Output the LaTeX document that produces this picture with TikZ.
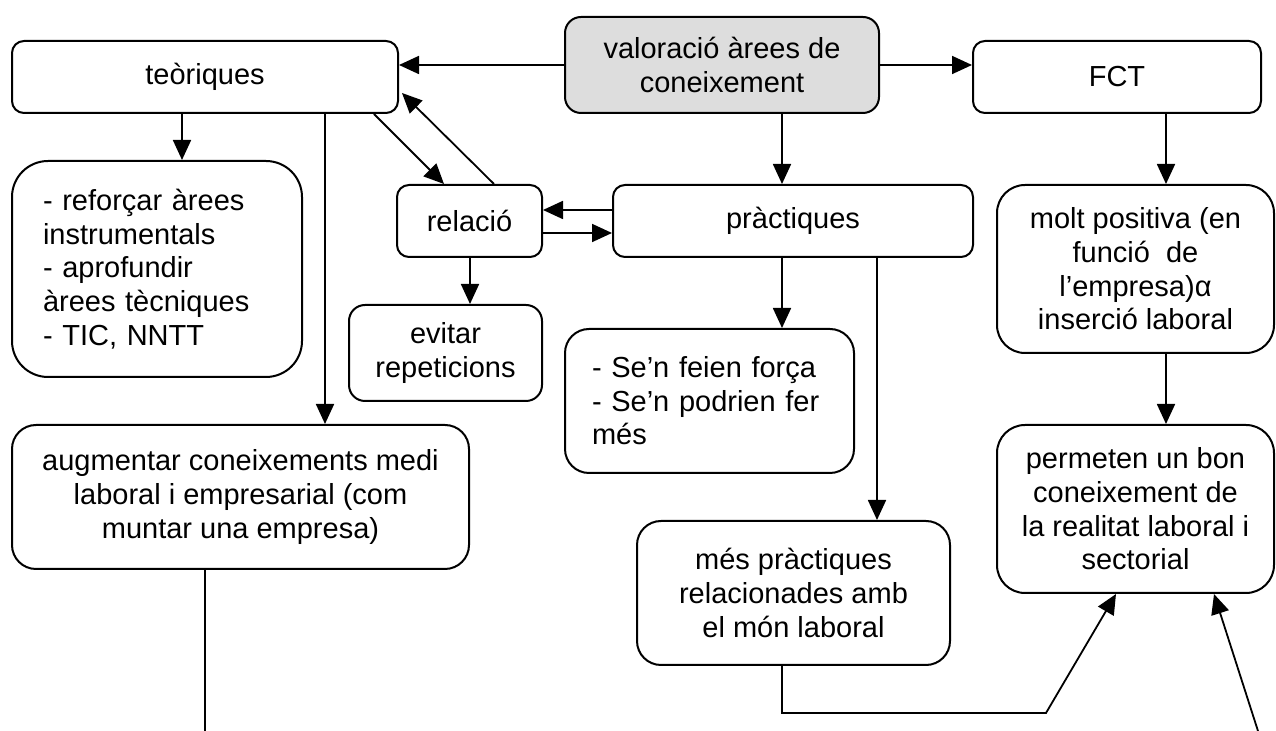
\documentclass[tikz,border=0pt]{standalone}
\usepackage{fontspec}
\setmainfont{Liberation Sans}
\usepackage{xcolor}
\definecolor{valfill}{HTML}{DDDDDD}
\usepackage{tikz}
\usetikzlibrary{arrows.meta,calc}
\tikzset{
  >={Triangle[length=10pt,width=9pt]},
  box/.style={draw,line width=1pt,rounded corners=6pt,inner sep=2pt,align=center,fill=white,
    font=\fontsize{14.5pt}{16.8pt}\selectfont},
  gbox/.style={box,fill=valfill},
  lbox/.style={box,align=left},
  arr/.style={->,line width=0.9pt},
  ln/.style={line width=0.9pt},
}
\begin{document}
\begin{tikzpicture}[x=0.5pt,y=-0.5pt]
\useasboundingbox (0,0) rectangle (1276,731);
\node[gbox,minimum width=157pt,minimum height=48pt,rounded corners=8pt] (val) at (722,65) {valoració àrees de\\coneixement};
\node[box,minimum width=193pt,minimum height=36pt] (teo) at (205,77) {teòriques};
\node[box,minimum width=144pt,minimum height=36pt] (fct) at (1117,77) {FCT};
\node[lbox,text width=114pt,inner xsep=15.5pt,minimum height=108pt,rounded corners=18pt] (ref) at (157,269)
  {- reforçar àrees\\instrumentals\\- aprofundir\\àrees tècniques\\- TIC, NNTT};
\node[box,minimum width=72.5pt,minimum height=36pt] (rel) at (469.5,221) {relació};
\node[box,minimum width=180pt,minimum height=36pt] (pra) at (793,221) {pràctiques};
\node[box,minimum width=96.5pt,minimum height=48pt,rounded corners=8pt] (evi) at (445.5,353) {evitar\\repeticions};
\node[lbox,text width=117.5pt,inner xsep=13.5pt,minimum height=72pt,rounded corners=12pt] (sen) at (709.5,401)
  {- Se’n feien força\\- Se’n podrien fer\\més};
\node[box,minimum width=138.5pt,minimum height=84pt,rounded corners=14pt] (mol) at (1135.5,269)
  {molt positiva (en\\funció\ \ de\\l’empresa)α\\inserció laboral};
\node[box,minimum width=228.5pt,minimum height=72pt,rounded corners=12pt] (aug) at (240.5,497)
  {augmentar coneixements medi\\laboral i empresarial (com\\muntar una empresa)};
\node[box,minimum width=156.5pt,minimum height=72pt,rounded corners=12pt] (mes) at (793.5,593)
  {més pràctiques\\relacionades amb\\el món laboral};
\node[box,minimum width=138.5pt,minimum height=84pt,rounded corners=14pt] (per) at (1135.5,509)
  {permeten un bon\\coneixement de\\la realitat laboral i\\sectorial};
\coordinate (xa) at (182,0);
\coordinate (xb) at (325,0);
\coordinate (xc) at (782,0);
\coordinate (xd) at (877,0);
\coordinate (xe) at (1166,0);
\coordinate (xg) at (470,0);
\coordinate (ya) at (0,210);
\coordinate (yb) at (0,233);
\coordinate (bot1) at (205,731);
\coordinate (bot2) at (1258,731);
\coordinate (bend) at (1046,713);
\draw[arr] (val.west) -- (val.west -| teo.east);
\draw[arr] (val.east) -- (val.east -| fct.west);
\draw[arr] (teo.south -| xa) -- (ref.north -| xa);
\draw[arr] (teo.south -| xb) -- (aug.north -| xb);
\draw[arr] ($(teo.south east)+(-25,0)$) -- ($(rel.north west)+(48,0)$);
\draw[arr] ($(rel.north)+(24.5,0)$) -- ($(teo.east)+(3,16)$);
\draw[arr] (val.south -| xc) -- (pra.north -| xc);
\draw[arr] (pra.west |- ya) -- (rel.east |- ya);
\draw[arr] (rel.east |- yb) -- (pra.west |- yb);
\draw[arr] (rel.south -| xg) -- (evi.north -| xg);
\draw[arr] (pra.south -| xc) -- (sen.north -| xc);
\draw[arr] (pra.south -| xd) -- (mes.north -| xd);
\draw[arr] (fct.south -| xe) -- (mol.north -| xe);
\draw[arr] (mol.south -| xe) -- (per.north -| xe);
\draw[ln] (aug.south -| bot1) -- (bot1);
\draw[arr] (mes.south -| xc) |- (bend) -- ($(per.south west)+(120,0)$);
\draw[arr] (bot2) -- ($(per.south west)+(218,0)$);
\end{tikzpicture}
\end{document}
